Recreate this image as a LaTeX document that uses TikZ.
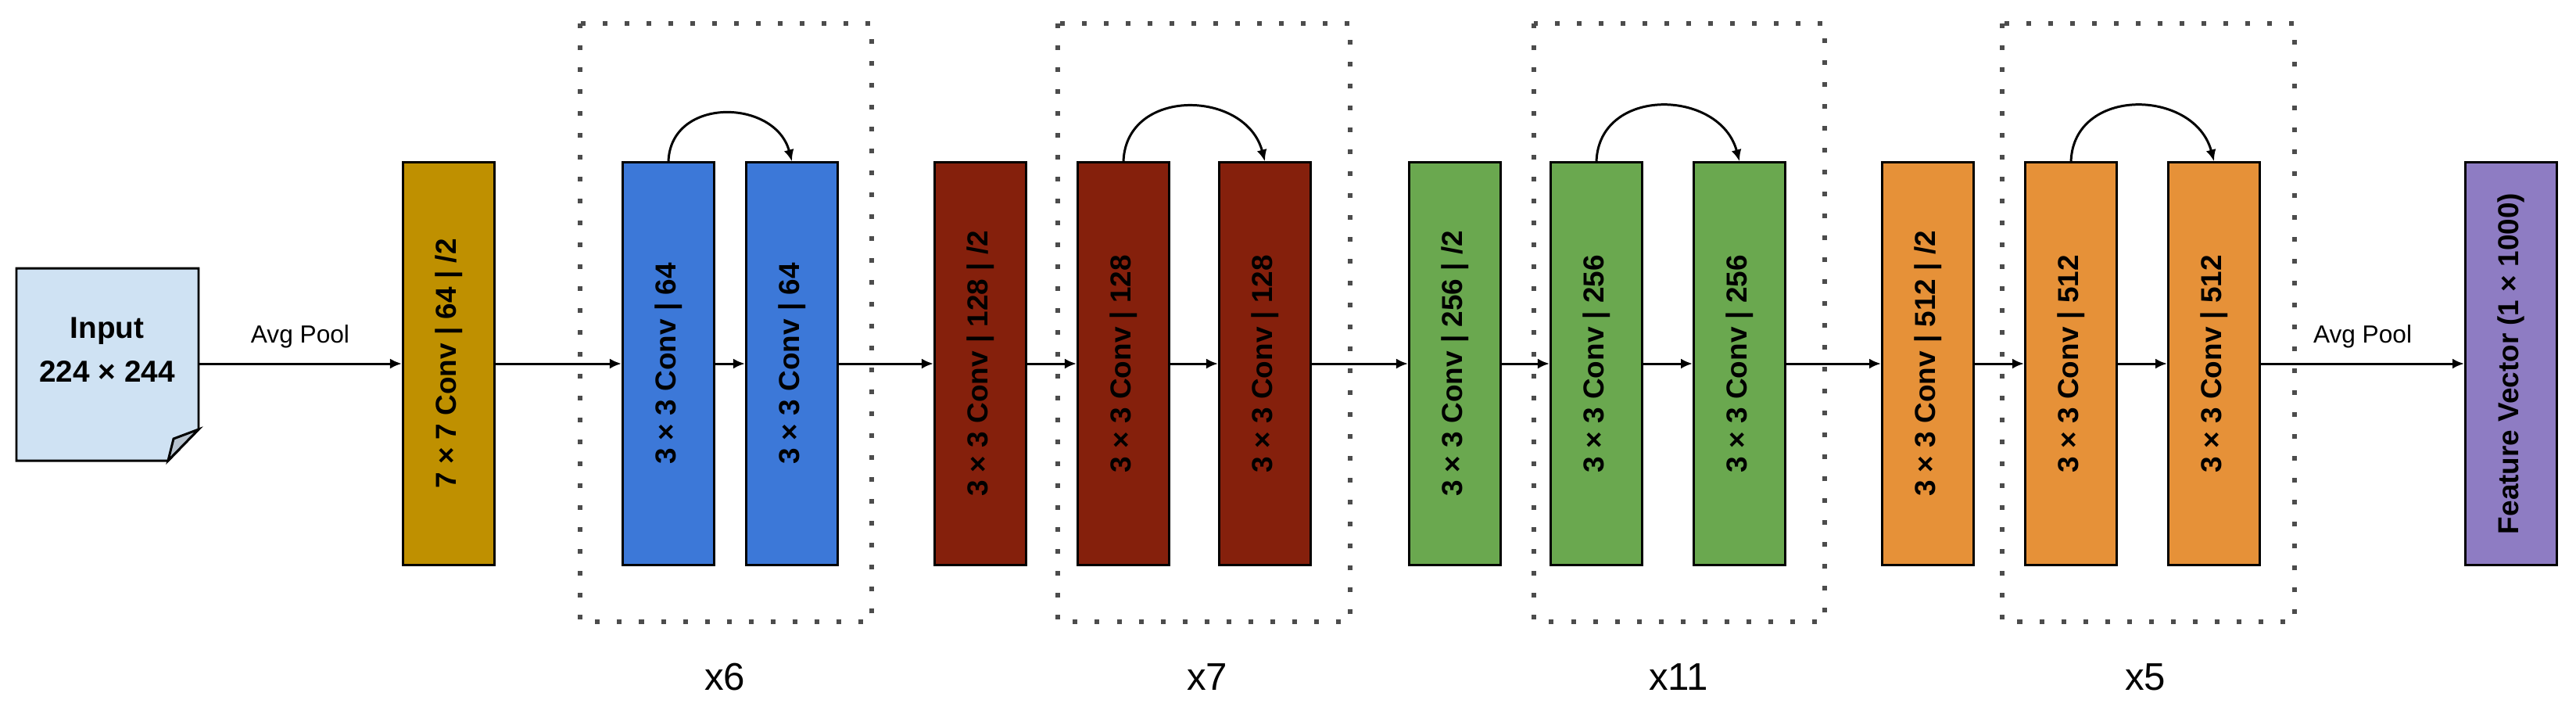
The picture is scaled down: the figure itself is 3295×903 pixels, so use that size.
\documentclass[tikz,border=0pt]{standalone}
\usepackage{fontspec}
\setmainfont{Liberation Sans}
\usetikzlibrary{arrows.meta}
\definecolor{cGold}{HTML}{BF9000}
\definecolor{cBlue}{HTML}{3C78D8}
\definecolor{cRed}{HTML}{85200C}
\definecolor{cGreen}{HTML}{6AA84F}
\definecolor{cOrange}{HTML}{E69138}
\definecolor{cPurple}{HTML}{8E7CC3}
\definecolor{cInput}{HTML}{CFE2F3}
\definecolor{cFold}{HTML}{B7C3CF}
\begin{document}
\begin{tikzpicture}[x=0.01cm,y=-0.01cm,
  blk/.style={draw=black,line width=0.85pt,minimum width=1.17cm,minimum height=5.14cm,inner sep=0pt,
    font=\fontsize{10.5}{12}\selectfont\bfseries},
  lbl/.style={rotate=90},
  conn/.style={line width=0.85pt,-{Latex[length=1.5mm,width=1.3mm]}},
  rep/.style={draw=black!70,line width=0.6mm,dash pattern=on 0.6mm off 2.2mm},
  cnt/.style={font=\fontsize{14}{16}\selectfont},
  pool/.style={font=\fontsize{9}{11}\selectfont}]
\useasboundingbox (0,0) rectangle (3295,903);
% input document
\draw[fill=cInput,line width=0.85pt,line join=miter] (21,343)--(254,343)--(254,549)--(215,589)--(21,589)--cycle;
\draw[fill=cFold,line width=0.85pt] (254,549)--(222,561)--(215,589)--cycle;
\node[align=center,font=\fontsize{11}{16}\selectfont\bfseries] (intxt) at (137,447) {Input\\224 × 244};
\coordinate (inp) at (254,465);
% blocks
\node[blk,fill=cGold] (c7) at (574,465) {\rotatebox{90}{7 × 7 Conv | 64 | /2}};
\node[blk,fill=cBlue] (b1) at (855,465) {\rotatebox{90}{3 × 3 Conv | 64}};
\node[blk,fill=cBlue] (b2) at (1013,465) {\rotatebox{90}{3 × 3 Conv | 64}};
\node[blk,fill=cRed] (r1) at (1254,465) {\rotatebox{90}{3 × 3 Conv | 128 | /2}};
\node[blk,fill=cRed] (r2) at (1437,465) {\rotatebox{90}{3 × 3 Conv | 128}};
\node[blk,fill=cRed] (r3) at (1618,465) {\rotatebox{90}{3 × 3 Conv | 128}};
\node[blk,fill=cGreen] (g1) at (1861,465) {\rotatebox{90}{3 × 3 Conv | 256 | /2}};
\node[blk,fill=cGreen] (g2) at (2042,465) {\rotatebox{90}{3 × 3 Conv | 256}};
\node[blk,fill=cGreen] (g3) at (2225,465) {\rotatebox{90}{3 × 3 Conv | 256}};
\node[blk,fill=cOrange] (o1) at (2466,465) {\rotatebox{90}{3 × 3 Conv | 512 | /2}};
\node[blk,fill=cOrange] (o2) at (2649,465) {\rotatebox{90}{3 × 3 Conv | 512}};
\node[blk,fill=cOrange] (o3) at (2832,465) {\rotatebox{90}{3 × 3 Conv | 512}};
\node[blk,fill=cPurple] (fv) at (3212,465) {\rotatebox{90}{Feature Vector (1 × 1000)}};
% repeat frames
\draw[rep] (742,30) rectangle (1115,795);
\draw[rep] (1353,30) rectangle (1727,795);
\draw[rep] (1962,30) rectangle (2334,795);
\draw[rep] (2561,30) rectangle (2935,795);
\node[cnt] (n6) at (927,866) {x6};
\node[cnt] (n7) at (1544,866) {x7};
\node[cnt] (n11) at (2147,866) {x11};
\node[cnt] (n5) at (2744,866) {x5};
% connectors
\draw[conn] (inp) -- node[pool,above=2pt] {Avg Pool} (c7.west);
\draw[conn] (c7) -- (b1);
\draw[conn] (b1) -- (b2);
\draw[conn] (b2) -- (r1);
\draw[conn] (r1) -- (r2);
\draw[conn] (r2) -- (r3);
\draw[conn] (r3) -- (g1);
\draw[conn] (g1) -- (g2);
\draw[conn] (g2) -- (g3);
\draw[conn] (g3) -- (o1);
\draw[conn] (o1) -- (o2);
\draw[conn] (o2) -- (o3);
\draw[conn] (o3) -- node[pool,above=2pt] {Avg Pool} (fv);
% skip arcs
\draw[conn] (b1.north) to[out=88,in=105,looseness=1.35] (b2.north);
\draw[conn] (r2.north) to[out=88,in=105,looseness=1.35] (r3.north);
\draw[conn] (g2.north) to[out=88,in=105,looseness=1.35] (g3.north);
\draw[conn] (o2.north) to[out=88,in=105,looseness=1.35] (o3.north);
\end{tikzpicture}
\end{document}
